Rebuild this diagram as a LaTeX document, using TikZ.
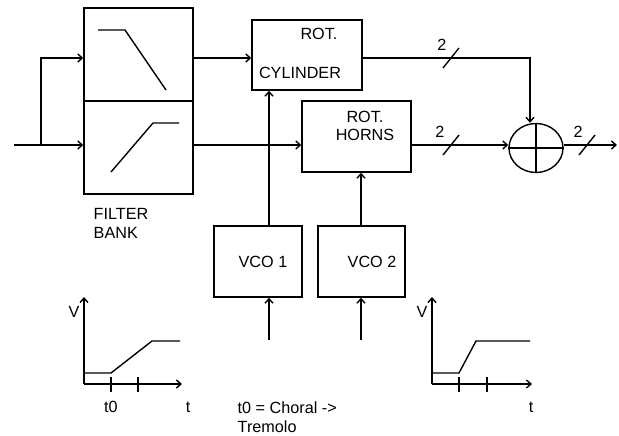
\documentclass[tikz,border=0pt]{standalone}
\usepackage{fontspec}
\setmainfont{Liberation Sans}
\usetikzlibrary{arrows.meta, shapes.geometric}

\begin{document}
\begin{tikzpicture}[
    x=1pt, y=-1pt, line width=1.4pt, >={Straight Barb[length=4.5pt, width=8pt]},
    font=\fontsize{16.2}{18.5}\selectfont,
    block/.style={draw, rectangle, inner sep=0pt},
    lbl/.style={inner sep=0pt, anchor=center}
]
    \useasboundingbox (0,0) rectangle (619,436);

    % filter bank
    \node[block, minimum width=109pt, minimum height=93pt] (lp) at (138.5,54.5) {};
    \node[block, minimum width=109pt, minimum height=93pt] (hp) at (138.5,147.5) {};
    \draw (98,30) -- (125,30) -- (166,90);
    \draw (111,172) -- (153,123) -- (179,123);
    \node[lbl, anchor=west, align=left] (fb) at (93,223.5) {FILTER\\BANK};

    % rotors and vcos
    \node[block, minimum width=110pt, minimum height=70pt] (cyl) at (307,55) {};
    \node[lbl] (cylrot) at (319,34) {ROT.};
    \node[lbl] (cyltxt) at (300,73) {CYLINDER};
    \node[block, minimum width=109pt, minimum height=71pt] (horns) at (356.5,136.5) {};
    \node[lbl, align=center] (hornstxt) at (365,126) {ROT.\\HORNS};
    \node[block, minimum width=88pt, minimum height=71pt] (vco1) at (258,261.5) {};
    \node[lbl] (vco1txt) at (263,262) {VCO 1};
    \node[block, minimum width=87pt, minimum height=71pt] (vco2) at (361.5,261.5) {};
    \node[lbl] (vco2txt) at (372,262) {VCO 2};

    % summing point
    \node[draw, ellipse, minimum width=54pt, minimum height=49pt, inner sep=0pt] (sum) at (536,148) {};
    \draw (sum.north) -- (sum.south) (sum.west) -- (sum.east);

    % signal paths
    \coordinate (in) at (14,145);
    \coordinate (split) at (41,145);
    \coordinate (upper) at (41,58);
    \coordinate (out) at (617,145);
    \coordinate (c1) at (269,340);
    \coordinate (c2) at (361,340);
    \draw[->] (in) -- (hp.west |- in);
    \draw[->] (split) -- (upper) -- (lp.west |- upper);
    \draw[->] (lp.east |- upper) -- (cyl.west |- upper);
    \draw[->] (hp.east |- in) -- (horns.west |- in);
    \draw[->] (cyl.east |- upper) -| ([xshift=-6pt]sum.north);
    \draw[->] (horns.east |- in) -- (sum.west |- in);
    \draw[->] (sum.east |- in) -- (out);
    \draw[->] (vco1.north -| c1) -- (cyl.south -| c1);
    \draw[->] (vco2.north -| c2) -- (horns.south -| c2);
    \draw[->] (c1) -- (vco1.south -| c1);
    \draw[->] (c2) -- (vco2.south -| c2);

    % bus width marks
    \foreach \x/\y/\dx in {451/58/9, 451/145/11, 587/145/9} {
        \draw (\x-8,\y+10) -- (\x+8,\y-10);
        \node[lbl] at (\x-\dx,\y-13) {2};
    }

    % control voltage graphs
    \foreach \o/\a/\b/\e/\k in {84/111/152/180/138, 432/459/476/530/487} {
        \draw[->] (\o,384) -- (\o,297);
        \draw[->] (\o,384) -- (\e+2,384);
        \draw (\o,373) -- (\a,373) -- (\b,341) -- (\e,341);
        \draw (\a,377) -- (\a,392) (\k,377) -- (\k,392);
        \node[lbl] at (\o-10,312) {V};
    }
    \node[lbl] (t0a) at (111,407) {t0};
    \node[lbl] (ta) at (188,407) {t};
    \node[lbl] (tb) at (531,407) {t};
    \node[lbl, anchor=west, align=left] (note) at (237,417) {t0 = Choral ->\\Tremolo};
\end{tikzpicture}
\end{document}
